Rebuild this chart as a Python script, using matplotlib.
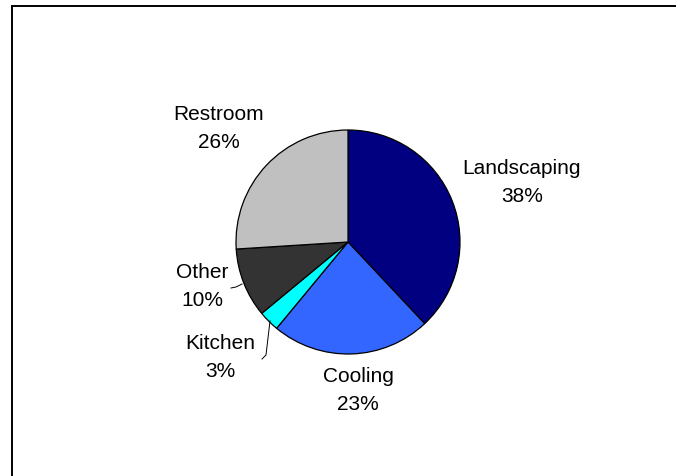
import matplotlib.pyplot as plt
from matplotlib.lines import Line2D

plt.rcParams['font.family'] = ['Liberation Sans', 'DejaVu Sans']

# data
categories = ['Landscaping', 'Cooling', 'Kitchen', 'Other', 'Restroom']
shares = [38, 23, 3, 10, 26]
colors = ['#000080', '#3366FF', '#00FFFF', '#333333', '#C0C0C0']

# label centres in pixel space (y measured from top of picture)
label_xy = [(522, 183), (358, 391), (220, 358), (202, 286), (219, 128)]

W, H = 676, 477
fig = plt.figure(figsize=(W / 100, H / 100), dpi=100)
ax = fig.add_axes([0, 0, 1, 1])

ax.pie(shares, colors=colors, startangle=90, counterclock=False,
       center=(348, H - 243), radius=112, frame=True,
       wedgeprops={'edgecolor': 'black', 'linewidth': 0.9})
ax.set_xlim(0, W)
ax.set_ylim(0, H)
ax.axis('off')

for name, val, (x, y) in zip(categories, shares, label_xy):
    ax.text(x, H - y, '%s\n%d%%' % (name, val), ha='center', va='center',
            fontsize=15, linespacing=1.6, color='black')

# leader lines for the small slices
ax.plot([270, 266, 262], [H - 322, H - 356, H - 360], color='black', lw=0.7)
ax.plot([242, 236, 231], [H - 285, H - 288, H - 289], color='black', lw=0.7)

# outer frame (only top and left edges fall inside the picture)
fig.add_artist(Line2D([11.5 / W, 1], [1 - 6.5 / H, 1 - 6.5 / H], color='black', lw=1.4))
fig.add_artist(Line2D([11.5 / W, 11.5 / W], [0, 1 - 6.5 / H], color='black', lw=1.4))

fig.savefig('out.png', dpi=100)
